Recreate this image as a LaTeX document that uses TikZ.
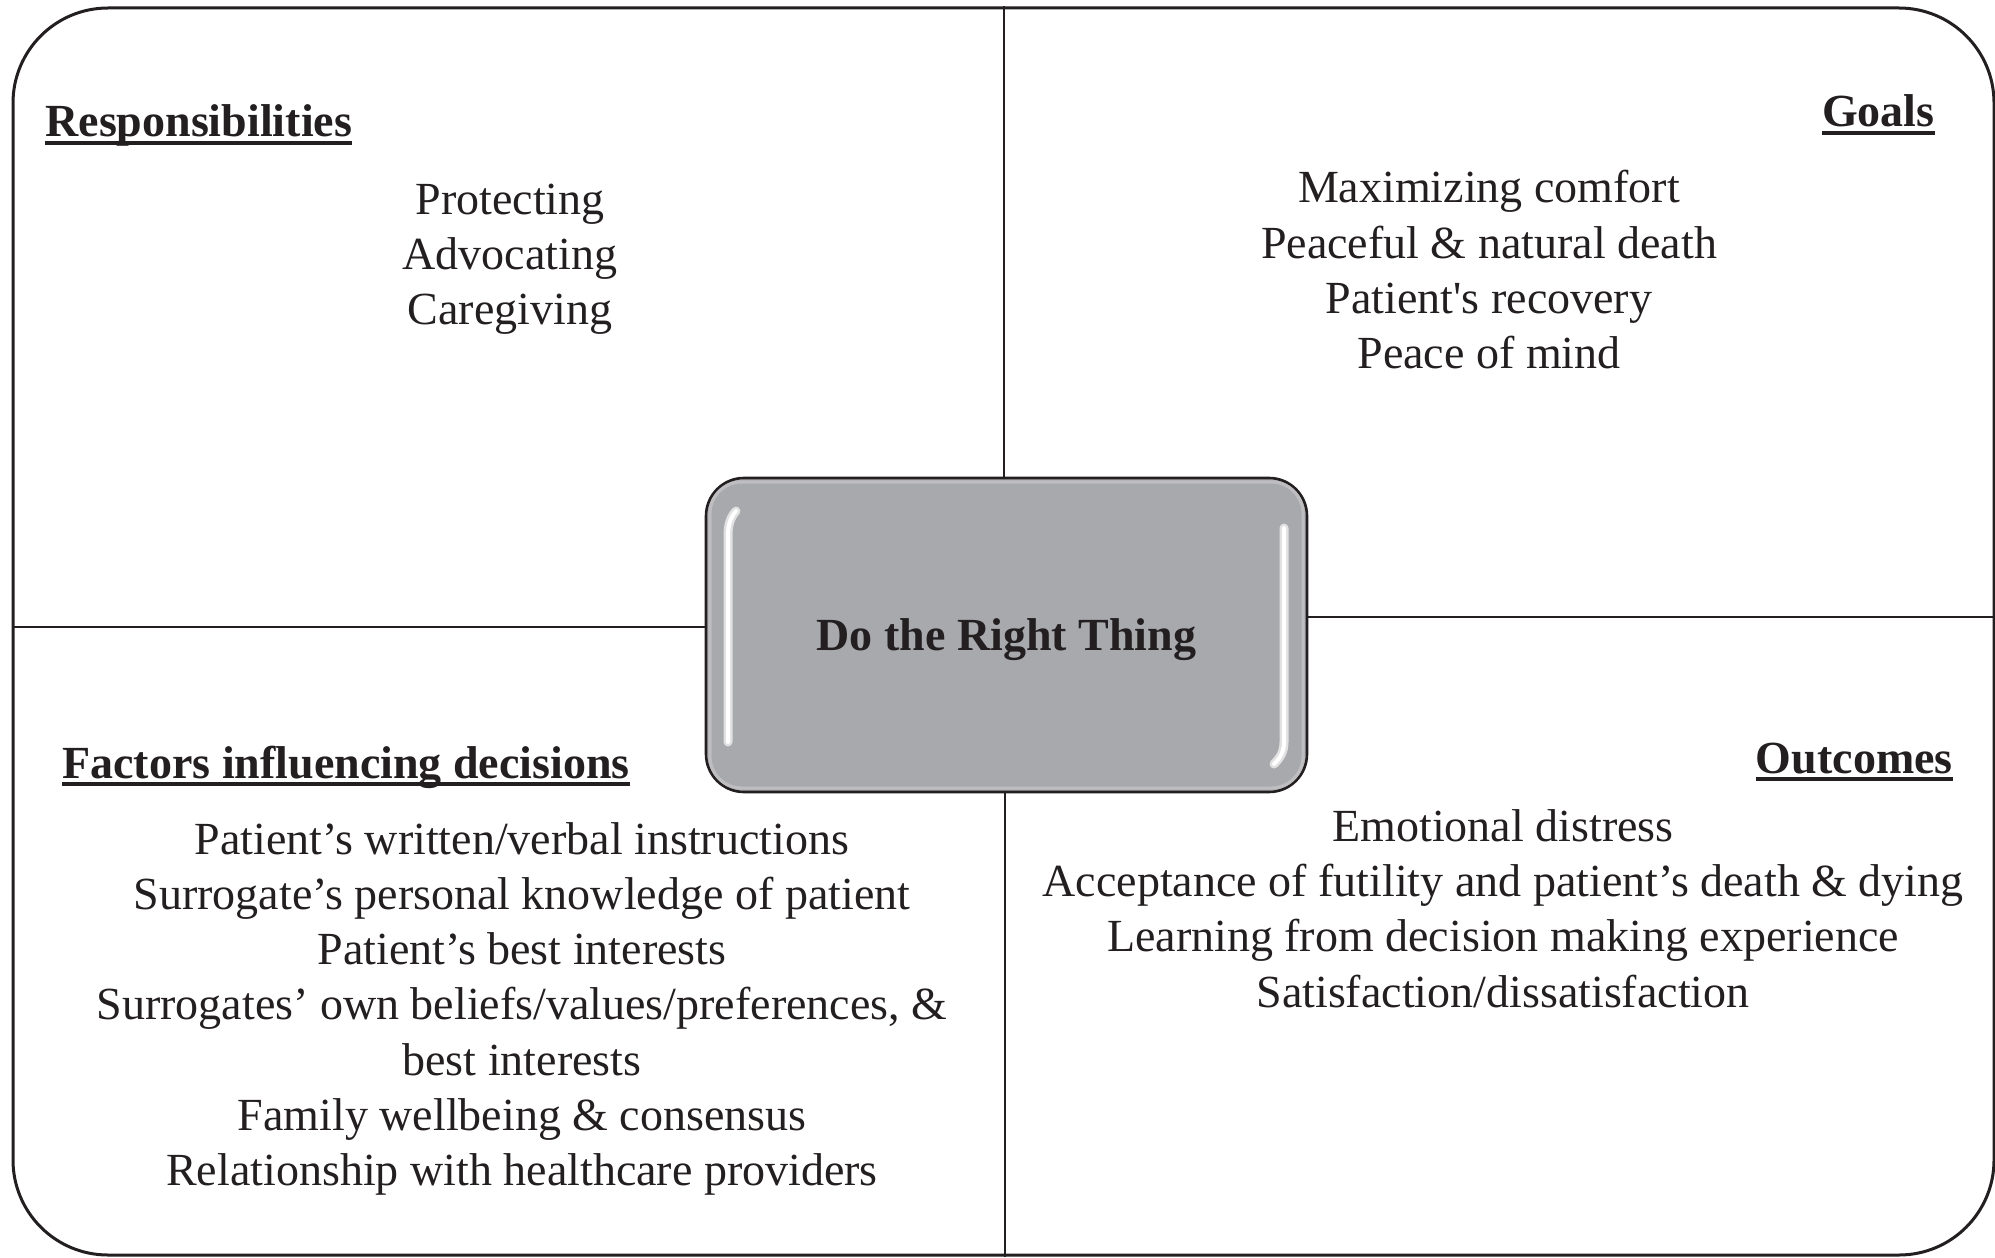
\documentclass[tikz,border=0pt]{standalone}
\usepackage{fontspec}
\setmainfont{Liberation Serif}
\definecolor{inkc}{RGB}{35,31,32}
\definecolor{boxgray}{RGB}{168,169,173}
% bold heading with a rule set just under the baseline
\newcommand\headline[1]{\setbox0=\hbox{\bfseries #1}\rlap{\rule[-3.9pt]{\wd0}{1.8pt}}\box0}
\begin{document}
\begin{tikzpicture}[x=0.5pt,y=-0.5pt,
  frame/.style={draw=inkc,line width=1.5pt,rounded corners=47.5pt,inner sep=0pt},
  divider/.style={draw=inkc,line width=1.25pt},
  hub/.style={draw=inkc,fill=boxgray,line width=1.3pt,rounded corners=19pt,inner sep=0pt,
    text=inkc,font=\fontsize{23}{27.6}\selectfont\bfseries,text height=15pt,text depth=0pt},
  item/.style={anchor=base,inner sep=0pt,text=inkc,font=\fontsize{23}{27.6}\selectfont},
  head/.style={inner sep=0pt,text=inkc,font=\fontsize{23}{27.6}\selectfont},
  rim/.style={draw=boxgray!75!white,line width=1.6pt,rounded corners=16pt},
  glowband/.style={draw=boxgray!35!white,line width=4.5pt,line cap=round},
  gloss/.style={draw=white,line width=2pt,line cap=round}]

\useasboundingbox (0,0) rectangle (1995,1257);

% outer frame
\node[frame,minimum width=990.5pt,minimum height=623.5pt] (frame) at (1003.5,631.5) {};

% central box
\node[hub,minimum width=300.5pt,minimum height=157pt] (hub) at (1006.5,635) {Do the Right Thing};

% soft lighter rim and glossy highlights inside the central box
\draw[rim] ([shift={(2.6pt,-2.6pt)}]hub.north west) rectangle ([shift={(-2.6pt,2.6pt)}]hub.south east);
\draw[glowband] (736,511) .. controls (730,518) and (728,525) .. (728,536) -- (728,742);
\draw[gloss] (736,511) .. controls (730,518) and (728,525) .. (728,536) -- (728,742);
\draw[glowband] (1284,528) -- (1284,742) .. controls (1284,752) and (1280,758) .. (1274,764);
\draw[gloss] (1284,528) -- (1284,742) .. controls (1284,752) and (1280,758) .. (1274,764);

% quadrant dividers
\draw[divider] ([xshift=-1.25pt]hub.north) -- ([xshift=-1.25pt]hub.north |- frame.north);
\draw[divider] ([xshift=-0.75pt]hub.south) -- ([xshift=-0.75pt]hub.south |- frame.south);
\draw[divider] ([yshift=4pt]hub.west) -- ([yshift=4pt]hub.west -| frame.west);
\draw[divider] ([yshift=9pt]hub.east) -- ([yshift=9pt]hub.east -| frame.east);

% headings
\node[head,anchor=base west] (hresp) at (45,137) {\headline{Responsibilities}};
\node[head,anchor=base east] (hgoal) at (1935,127) {\headline{Goals}};
\node[head,anchor=base west] (hfact) at (62,778) {\headline{Factors influencing decisions}};
\node[head,anchor=base east] (hout) at (1953,773) {\headline{Outcomes}};

% responsibilities
\foreach \t [count=\i from 0] in {Protecting,Advocating,Caregiving}
  \node[item] (r\i) at (510,215+54.6*\i) {\t};

% goals
\foreach \t [count=\i from 0] in {Maximizing comfort,Peaceful \& natural death,Patient\textquotesingle s recovery,Peace of mind}
  \node[item] (g\i) at (1489,203+55*\i) {\t};

% factors influencing decisions
\foreach \t [count=\i from 0] in {Patient’s written/verbal instructions,
    Surrogate’s personal knowledge of patient,
    Patient’s best interests,
    {Surrogates’ own beliefs/values/preferences, \&},
    best interests,
    Family wellbeing \& consensus,
    Relationship with healthcare providers}
  \node[item] (f\i) at (522,854+55.3*\i) {\t};

% outcomes
\foreach \t [count=\i from 0] in {Emotional distress,
    Acceptance of futility and patient’s death \& dying,
    Learning from decision making experience,
    Satisfaction/dissatisfaction}
  \node[item] (o\i) at (1503,841+55.4*\i) {\t};

\end{tikzpicture}
\end{document}
